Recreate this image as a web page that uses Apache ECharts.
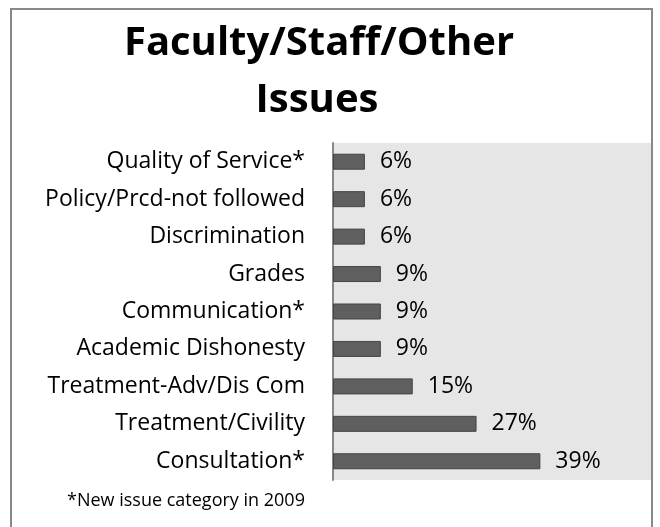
<!DOCTYPE html>
<html>
<head>
<meta charset="utf-8">
<script src="https://cdn.jsdelivr.net/npm/echarts@6/dist/echarts.min.js"></script>
<style>
html, body { margin: 0; padding: 0; background: #fff; }
#chart { width: 660px; height: 527px; }
</style>
</head>
<body>
<div id="chart"></div>
<script>
// categories, top to bottom
let categories = ['Quality of Service*', 'Policy/Prcd-not followed', 'Discrimination',
	'Grades', 'Communication*', 'Academic Dishonesty',
	'Treatment-Adv/Dis Com', 'Treatment/Civility', 'Consultation*'];
let percents = [6, 6, 6, 9, 9, 9, 15, 27, 39];		// % of issues
let footNote = '*New issue category in 2009';
let fontName = '"Open Sans", sans-serif';

var myChart = echarts.init(document.getElementById('chart'));

let option = {
	backgroundColor: '#fff',
	title: [
		{
			text: 'Faculty/Staff/Other',
			left: 314, top: 19, textAlign: 'center',
			textStyle: { fontFamily: fontName, fontSize: 40, fontWeight: 'bold', color: '#000' }
		},
		{
			text: 'Issues',
			left: 312, top: 76, textAlign: 'center',
			textStyle: { fontFamily: fontName, fontSize: 40, fontWeight: 'bold', color: '#000' }
		}
	],
	graphic: [
		{
			type: 'rect',
			shape: { x: 11, y: 9, width: 641, height: 540 },
			style: { fill: 'none', stroke: '#888', lineWidth: 2 },
			z: 100
		},
		{
			type: 'text',
			left: 67, top: 492,
			style: { text: footNote, fontFamily: fontName, fontSize: 18, fill: '#000' }
		}
	],
	grid: {
		left: 333, right: 8, top: 143, bottom: 47,
		show: true, backgroundColor: '#e6e6e6', borderWidth: 0,
		containLabel: false
	},
	xAxis: {
		type: 'value', min: 0, max: 60,
		show: false
	},
	yAxis: {
		type: 'category',
		inverse: true,
		data: categories,
		axisLine: { show: true, lineStyle: { color: '#888', width: 2 } },
		axisTick: { show: false },
		axisLabel: { margin: 28, fontFamily: fontName, fontSize: 23, color: '#000' }
	},
	series: [
		{
			type: 'bar',
			data: percents,
			barWidth: 16,
			itemStyle: { color: '#5f5f5f', borderColor: '#444', borderWidth: 1 },
			label: {
				show: true, position: 'right', distance: 15,
				formatter: '{c}%',
				fontFamily: fontName, fontSize: 23, color: '#000'
			},
			silent: true
		}
	]
};

myChart.setOption(option);
</script>
</body>
</html>
